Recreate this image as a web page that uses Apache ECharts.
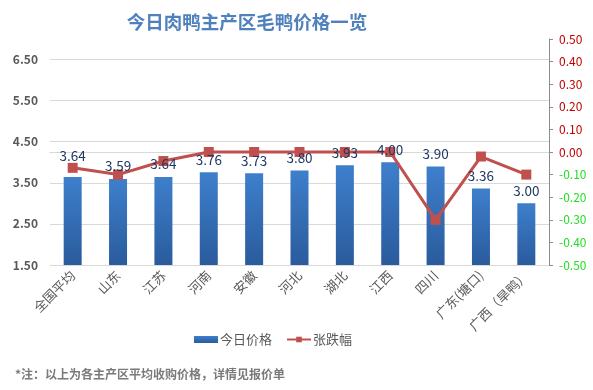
<!DOCTYPE html>
<html><head><meta charset="utf-8">
<script src="https://cdn.jsdelivr.net/npm/echarts@6/dist/echarts.min.js"></script>
<style>html,body{margin:0;padding:0;background:#fff}#c{width:593px;height:390px}</style>
</head><body><div id="c"></div>
<script>
const categories = ['全国平均','山东','江苏','河南','安徽','河北','湖北','江西','四川','广东(塘口)','广西（旱鸭）'];
const priceValues = [3.64,3.59,3.64,3.76,3.73,3.80,3.93,4.00,3.90,3.36,3.00];
const changeValues = [-0.07,-0.10,-0.04,0.00,0.00,0.00,0.00,0.00,-0.30,-0.02,-0.10];
const seriesNames = ['今日价格','张跌幅'];
const titleText = '今日肉鸭主产区毛鸭价格一览';
const noteText = '*注：以上为各主产区平均收购价格，详情见报价单';

const FONT = '"Noto Sans CJK SC","Noto Sans",sans-serif';
const chart = echarts.init(document.getElementById('c'));
const labelData = priceValues.map((v,i)=> i===0 ? {value:v,label:{offset:[0,-8]}} : v);
chart.setOption({
  backgroundColor:'#fff',
  animation:false,
  textStyle:{fontFamily:FONT},
  title:[{
    text:titleText, left:242, top:8, textAlign:'center',
    textStyle:{color:'#4f81bd',fontSize:18.5,fontWeight:'bold',fontFamily:FONT}
  },{
    text:noteText, left:10, top:363,
    textStyle:{color:'#7a7a7a',fontSize:12,fontWeight:'bold',fontFamily:FONT}
  }],
  legend:{
    data:[{name:seriesNames[0],icon:'rect'},{name:seriesNames[1]}],
    left:189, top:328, itemWidth:24, itemHeight:7, itemGap:14,
    textStyle:{color:'#595959',fontSize:13,fontFamily:FONT,padding:[0,0,0,-3]}
  },
  grid:{left:50,right:44,top:39,bottom:125,containLabel:false},
  xAxis:{
    type:'category', data:categories,
    axisLine:{lineStyle:{color:'#d9d9d9'}},
    axisTick:{show:false},
    axisLabel:{rotate:45,color:'#595959',fontSize:13,margin:8,interval:0,fontFamily:FONT}
  },
  yAxis:[{
    type:'value', min:1.5, max:7.0, interval:1,
    axisLine:{show:false}, axisTick:{show:false},
    axisLabel:{showMaxLabel:false,color:'#595959',fontSize:12,fontWeight:'bold',margin:12,
      formatter:v=>v.toFixed(2)},
    splitLine:{showMaxLine:false,lineStyle:{color:'#d9d9d9'}}
  },{
    type:'value', min:-0.5, max:0.5, interval:0.1, position:'right',
    axisLine:{show:true,lineStyle:{color:'#8c8c8c'}},
    axisTick:{show:true,inside:false,length:4,lineStyle:{color:'#8c8c8c'}},
    splitLine:{show:false},
    axisLabel:{fontSize:12,margin:10,
      formatter:v=>{const r=Math.round(v*100)/100;return (r===0?0:r).toFixed(2);},
      color:v=>(Math.round(v*100)/100<0?'#22dd22':'#c00000')}
  }],
  series:[{
    name:seriesNames[0], type:'bar', data:priceValues, barWidth:18, yAxisIndex:0, z:1,
    itemStyle:{color:new echarts.graphic.LinearGradient(0,0,0,1,[{offset:0,color:'#3e7fcc'},{offset:1,color:'#2a5b9c'}])}
  },{
    name:seriesNames[1], type:'line', data:changeValues, yAxisIndex:1, z:2,
    symbol:'rect', symbolSize:10,
    lineStyle:{color:'#c0504d',width:3},
    itemStyle:{color:'#c0504d'}
  },{
    name:'labels', type:'bar', data:labelData, barWidth:18, barGap:'-100%', yAxisIndex:0, z:5, zlevel:1,
    silent:true, legendHoverLink:false,
    itemStyle:{color:'rgba(0,0,0,0)'},
    label:{show:true,position:'top',distance:6,color:'#1f3864',fontSize:13.5,fontFamily:FONT,
      formatter:p=>p.value.toFixed(2)}
  }]
});
</script></body></html>
